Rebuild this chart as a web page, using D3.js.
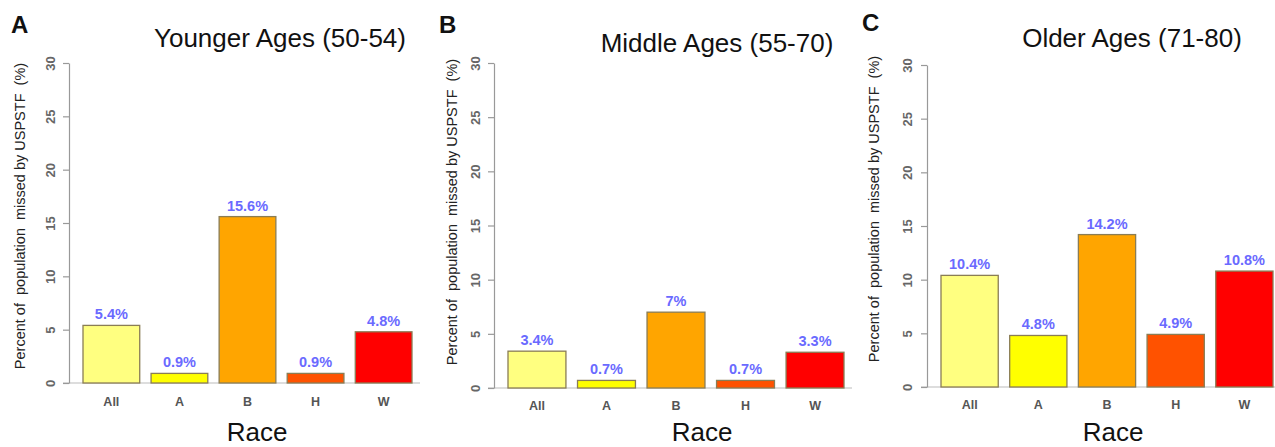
<!DOCTYPE html>
<html>
<head>
<meta charset="utf-8">
<script src="https://cdn.jsdelivr.net/npm/d3@7"></script>
<style>
body { margin: 0; background: #fff; }
svg { display: block; font-family: "Liberation Sans", Arial, Helvetica, sans-serif; }
</style>
</head>
<body>
<svg width="1275" height="447"></svg>
<script>
var categories = ["All", "A", "B", "H", "W"];
var barColors = ["#ffff80", "#ffff00", "#ffa500", "#ff5200", "#ff0000"];
var yTicks = [0, 5, 10, 15, 20, 25, 30];
var panelLetters = ["A", "B", "C"];
var panelTitles = ["Younger Ages (50-54)", "Middle Ages (55-70)", "Older Ages (71-80)"];
var youngerValues = [5.4, 0.9, 15.6, 0.9, 4.8];
var middleValues = [3.4, 0.7, 7, 0.7, 3.3];
var olderValues = [10.4, 4.8, 14.2, 4.9, 10.8];
var yLabel = "Percent of  population  missed by USPSTF  (%)";
var xLabel = "Race";

var svg = d3.select("svg");

// where each panel sits on the page
var layout = [
  {axisX: 69, y0: 383, y30: 63, barL: 83, barR: 412, titleX: 280, titleY: 47, letterX: 11, letterY: 33,
   ylabX: 20, ylabY: 216, tickX: 50, catY: 406, raceX: 257, raceY: 441},
  {axisX: 494, y0: 388, y30: 63, barL: 508, barR: 844, titleX: 717, titleY: 52, letterX: 439, letterY: 33,
   ylabX: 452, ylabY: 212, tickX: 475, catY: 410, raceX: 702, raceY: 441},
  {axisX: 927, y0: 387, y30: 65, barL: 941, barR: 1273, titleX: 1132, titleY: 47, letterX: 862, letterY: 31,
   ylabX: 874, ylabY: 209, tickX: 907, catY: 409, raceX: 1113, raceY: 441}
];

var panelValues = [youngerValues, middleValues, olderValues];

panelValues.forEach(function(values, i) {
  var L = layout[i];
  var g = svg.append("g");

  var x = d3.scaleBand()
    .domain(categories)
    .range([L.barL, L.barR])
    .paddingInner(1 / 6)
    .paddingOuter(0);

  var y = d3.scaleLinear()
    .domain([0, 30])
    .range([L.y0, L.y30]);

  // baseline under the bars
  g.append("line")
    .attr("x1", L.axisX - 6).attr("x2", L.barR + 8)
    .attr("y1", y(0)).attr("y2", y(0))
    .attr("stroke", "#bbb").attr("stroke-width", 1.2);

  var yAxis = g.append("g")
    .attr("transform", "translate(" + L.axisX + ",0)")
    .call(d3.axisLeft(y).tickValues(yTicks).tickSize(6).tickSizeOuter(0));
  yAxis.select(".domain").attr("stroke", "#999").attr("stroke-width", 1.2);
  yAxis.selectAll(".tick line").attr("stroke", "#999").attr("stroke-width", 1.2);
  yAxis.selectAll(".tick text")
    .attr("x", 0).attr("y", 0)
    .attr("transform", "translate(" + (L.tickX - L.axisX) + ",0) rotate(-90)")
    .attr("text-anchor", "middle")
    .attr("dy", "0.35em")
    .attr("fill", "#666")
    .style("font-size", "13px")
    .style("font-weight", "bold")
    .style("font-family", "'Liberation Sans', Arial, sans-serif");

  g.selectAll(".bar")
    .data(values)
    .enter().append("rect")
    .attr("class", "bar")
    .attr("x", function(d, j) { return x(categories[j]); })
    .attr("y", function(d) { return y(d); })
    .attr("width", x.bandwidth())
    .attr("height", function(d) { return y(0) - y(d); })
    .attr("fill", function(d, j) { return barColors[j]; })
    .attr("stroke", "#8a7d55")
    .attr("stroke-width", 1.3);

  g.selectAll(".val")
    .data(values)
    .enter().append("text")
    .attr("class", "val")
    .attr("x", function(d, j) { return x(categories[j]) + x.bandwidth() / 2; })
    .attr("y", function(d) { return y(d) - 6; })
    .attr("text-anchor", "middle")
    .attr("fill", "#6a6aff")
    .style("font-size", "14.5px")
    .style("font-weight", "bold")
    .text(function(d) { return d + "%"; });

  g.selectAll(".cat")
    .data(categories)
    .enter().append("text")
    .attr("class", "cat")
    .attr("x", function(d) { return x(d) + x.bandwidth() / 2; })
    .attr("y", L.catY)
    .attr("text-anchor", "middle")
    .attr("fill", "#555")
    .style("font-size", "12.5px")
    .style("font-weight", "bold")
    .text(function(d) { return d; });

  g.append("text")
    .attr("transform", "translate(" + L.ylabX + "," + L.ylabY + ") rotate(-90)")
    .attr("text-anchor", "middle")
    .attr("dy", "0.35em")
    .attr("fill", "#222")
    .style("font-size", "14.5px")
    .style("white-space", "pre")
    .text(yLabel);

  g.append("text")
    .attr("x", L.raceX).attr("y", L.raceY)
    .attr("text-anchor", "middle")
    .attr("fill", "#111")
    .style("font-size", "26px")
    .text(xLabel);

  g.append("text")
    .attr("x", L.titleX).attr("y", L.titleY)
    .attr("text-anchor", "middle")
    .attr("fill", "#111")
    .style("font-size", "26px")
    .text(panelTitles[i]);

  g.append("text")
    .attr("x", L.letterX).attr("y", L.letterY)
    .attr("fill", "#111")
    .style("font-size", "24px")
    .style("font-weight", "bold")
    .text(panelLetters[i]);
});
</script>
</body>
</html>
